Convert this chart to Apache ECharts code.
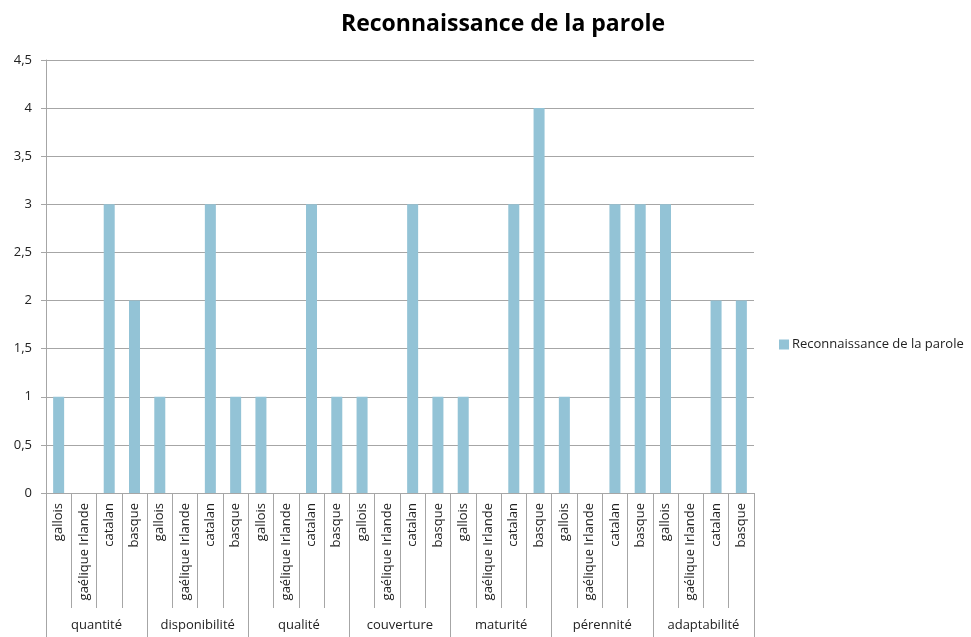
<!DOCTYPE html>
<html>
<head>
<meta charset="utf-8">
<script src="https://cdn.jsdelivr.net/npm/echarts@6/dist/echarts.min.js"></script>
<style>
  html, body { margin: 0; padding: 0; background: #fff; }
  #chart { width: 971px; height: 637px; }
</style>
</head>
<body>
<div id="chart"></div>
<script>
// criteres (groupes) et langues
var groups = ['quantité', 'disponibilité', 'qualité', 'couverture', 'maturité', 'pérennité', 'adaptabilité']
var langues = ['gallois', 'gaélique Irlande', 'catalan', 'basque']

// valeurs par critere, dans l'ordre des langues
var quantite = [1, 0, 3, 2]
var disponibilite = [1, 0, 3, 1]
var qualite = [1, 0, 3, 1]
var couverture = [1, 0, 3, 1]
var maturite = [1, 0, 3, 4]
var perennite = [1, 0, 3, 3]
var adaptabilite = [3, 0, 2, 2]

var seriesName = 'Reconnaissance de la parole'

var blocks = [quantite, disponibilite, qualite, couverture, maturite, perennite, adaptabilite]
var categories = []
var values = []
blocks.forEach(function (b) {
  langues.forEach(function (l, i) {
    categories.push(l)
    values.push(b[i])
  })
})

var font = '"Open Sans", sans-serif'
var grey = '#a6a6a6'

var chart = echarts.init(document.getElementById('chart'))
chart.setOption({
  animation: false,
  textStyle: { fontFamily: font },
  title: {
    text: 'Reconnaissance de la parole',
    left: 498,
    textAlign: 'center',
    top: 8,
    textStyle: { fontFamily: font, fontSize: 23, fontWeight: 'bold', color: '#000' }
  },
  legend: {
    orient: 'vertical',
    left: 779,
    top: 338,
    padding: 0,
    itemWidth: 10,
    itemHeight: 10,
    textStyle: { fontFamily: font, fontSize: 13, color: '#222', padding: [0, 0, 0, -2] },
    data: [{ name: seriesName, icon: 'rect' }]
  },
  grid: { left: 46, right: 217, top: 60, bottom: 144, containLabel: false },
  xAxis: [
    {
      type: 'category',
      data: categories,
      position: 'bottom',
      axisLine: { show: true, lineStyle: { color: grey, width: 1 } },
      axisTick: { show: true, length: 115, lineStyle: { color: grey } },
      axisLabel: {
        rotate: 90,
        interval: 0,
        margin: 10,
        fontSize: 13,
        color: '#222',
        fontFamily: font
      }
    },
    {
      type: 'category',
      data: groups,
      position: 'bottom',
      axisLine: { show: false },
      axisTick: { show: true, length: 146, lineStyle: { color: grey } },
      axisLabel: {
        interval: 0,
        margin: 126,
        fontSize: 13,
        color: '#222',
        fontFamily: font
      }
    }
  ],
  yAxis: {
    type: 'value',
    min: 0,
    max: 4.5,
    interval: 0.5,
    axisLine: { show: true, lineStyle: { color: grey } },
    axisTick: { show: true, length: 5, lineStyle: { color: grey } },
    splitLine: { show: true, lineStyle: { color: grey, width: 1 } },
    axisLabel: {
      margin: 14,
      fontSize: 13,
      color: '#222',
      fontFamily: font,
      formatter: function (v) { return String(v).replace('.', ',') }
    }
  },
  series: [
    {
      name: seriesName,
      type: 'bar',
      xAxisIndex: 0,
      barWidth: 11,
      itemStyle: { color: '#93c3d6' },
      data: values
    }
  ]
})
</script>
</body>
</html>
